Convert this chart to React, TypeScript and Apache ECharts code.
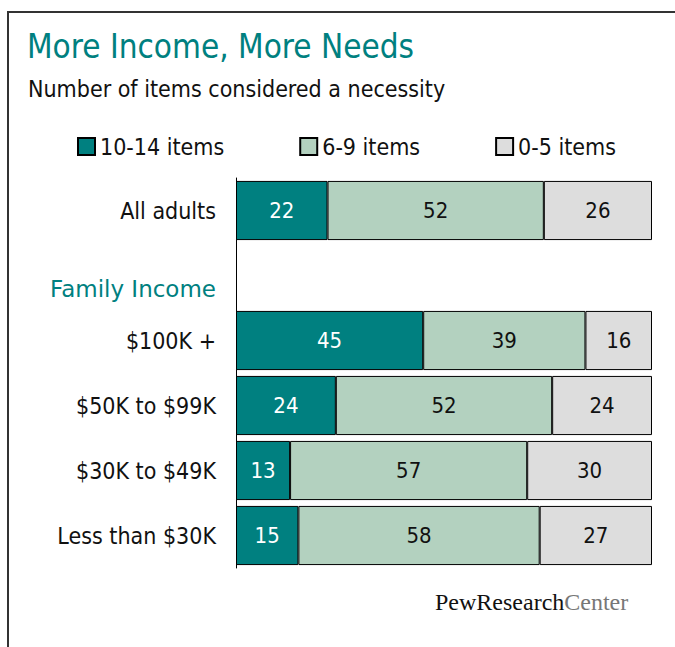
import React, { useEffect, useRef } from "react";
import * as echarts from "echarts";

const categories = ["All adults", "Family Income", "$100K +", "$50K to $99K", "$30K to $49K", "Less than $30K"];
const seriesNames = ["10-14 items", "6-9 items", "0-5 items"];
const high = [22, null, 45, 24, 13, 15];
const mid = [52, null, 39, 52, 57, 58];
const low = [26, null, 16, 24, 30, 27];
const headingCategory = "Family Income";

const TEAL = "#008080";
const GREEN = "#B3D1BF";
const GREY = "#DDDDDD";
const FONT = "'DejaVu Sans Condensed', 'DejaVu Sans', sans-serif";

export default function App() {
  const ref = useRef<HTMLDivElement>(null);
  useEffect(() => {
    if (!ref.current) return;
    const chart = echarts.init(ref.current, null, { renderer: "svg" });
    const mk = (name: string, data: (number | null)[], color: string, labelColor: string) => ({
      name,
      type: "bar",
      stack: "total",
      data,
      barCategoryGap: "9%",
      itemStyle: { color, borderColor: "#000", borderWidth: 1 },
      label: {
        show: true,
        position: "inside",
        color: labelColor,
        fontFamily: FONT,
        fontSize: 22,
      },
    });
    chart.setOption({
      animation: false,
      textStyle: { fontFamily: FONT },
      graphic: [
        { type: "line", shape: { x1: 7, y1: 12, x2: 675, y2: 12 }, style: { stroke: "#333", lineWidth: 2 } },
        { type: "line", shape: { x1: 8, y1: 12, x2: 8, y2: 647 }, style: { stroke: "#333", lineWidth: 2 } },
        {
          type: "text",
          left: 27,
          top: 30,
          style: { text: "More Income, More Needs", fill: TEAL, font: `33px ${FONT}` },
        },
        {
          type: "text",
          left: 28,
          top: 77,
          style: { text: "Number of items considered a necessity", fill: "#111", font: `23px ${FONT}` },
        },
        {
          type: "text",
          left: 435,
          top: 590,
          style: {
            text: "{a|PewResearch}{b|Center}",
            rich: {
              a: { fill: "#111", fontFamily: "'Liberation Serif', serif", fontSize: 24 },
              b: { fill: "#777", fontFamily: "'Liberation Serif', serif", fontSize: 24 },
            },
          },
        },
      ],
      legend: {
        left: 77,
        top: 135,
        padding: 0,
        itemWidth: 17,
        itemHeight: 17,
        itemGap: 75,
        icon: "rect",
        textStyle: { fontFamily: FONT, fontSize: 23, color: "#111", padding: [0, 0, 0, 0] },
        data: seriesNames,
      },
      grid: { left: 236, right: 23, top: 178, bottom: 79, containLabel: false },
      xAxis: { type: "value", min: 0, max: 100, show: false },
      yAxis: {
        type: "category",
        inverse: true,
        data: categories,
        axisLine: { show: true, lineStyle: { color: "#000", width: 1 } },
        axisTick: { show: false },
        axisLabel: {
          margin: 20,
          fontFamily: FONT,
          fontSize: 23,
          color: "#111",
          formatter: (v: string) => (v === headingCategory ? `{h|${v}}` : v),
          rich: {
            h: {
              color: TEAL,
              fontFamily: "'DejaVu Sans', sans-serif",
              fontSize: 23,
              padding: [26, 0, 0, 0],
            },
          },
        },
      },
      series: [mk(seriesNames[0], high, TEAL, "#fff"), mk(seriesNames[1], mid, GREEN, "#111"), mk(seriesNames[2], low, GREY, "#111")],
    });
    return () => chart.dispose();
  }, []);
  return <div ref={ref} style={{ width: 675, height: 647, position: "absolute", left: 0, top: 0 }} />;
}
